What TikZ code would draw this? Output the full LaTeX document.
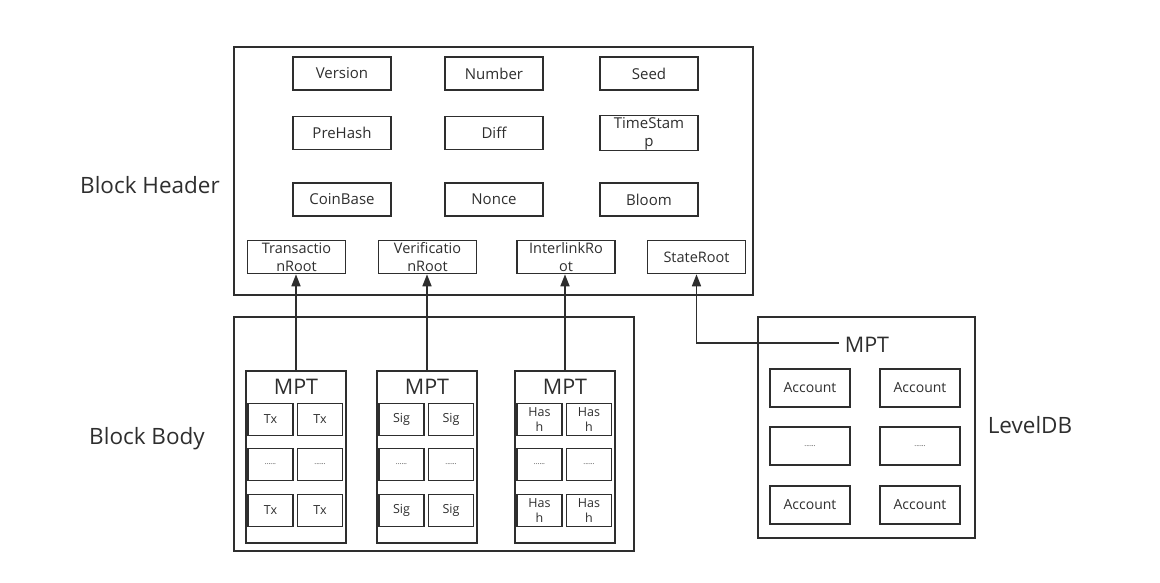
\documentclass[tikz,border=0pt]{standalone}
\usepackage{fontspec}
\setmainfont{Open Sans}
\usetikzlibrary{arrows.meta}
\definecolor{ink}{HTML}{2E2E2E}
\tikzset{
  bx/.style={draw=ink, line width=1.6pt, inner sep=0pt, align=center, text=ink},
  fbox/.style={bx, font=\fontsize{15}{18}\selectfont, minimum width=98pt, minimum height=33pt},
  rbox/.style={bx, font=\fontsize{14.5}{18}\selectfont, minimum width=98pt, minimum height=33pt},
  sbox/.style={bx, font=\fontsize{12.5}{15}\selectfont, minimum width=45pt, minimum height=32pt},
  abox/.style={bx, font=\fontsize{14}{17}\selectfont, minimum width=80pt, minimum height=38pt},
  mptbox/.style={draw=ink, line width=1.6pt, minimum width=100pt, minimum height=172pt, inner sep=0pt},
  mpttxt/.style={text=ink, font=\fontsize{21.5}{24}\selectfont, inner sep=0pt},
  bigl/.style={text=ink, font=\fontsize{22.5}{26}\selectfont, inner sep=0pt},
  conn/.style={draw=ink, line width=1.6pt, -{Triangle[length=12pt,width=9pt]}},
}
\begin{document}
\begin{tikzpicture}[x=1pt,y=-1pt]
\useasboundingbox (0,0) rectangle (1160,583);
% Block header
\draw[ink, line width=1.6pt] (234,47) rectangle (753,295);
\node[bigl] (lhead) at (150,185) {Block Header};
\node[fbox] (version) at (342,73.5) {Version};
\node[fbox] (number) at (494,73.5) {Number};
\node[fbox] (seed) at (649,73.5) {Seed};
\node[fbox] (prehash) at (342,133) {PreHash};
\node[fbox] (diff) at (494,133) {Diff};
\node[fbox] (timestamp) at (649,133) {\rule{0pt}{13pt}TimeStam\\p};
\node[fbox] (coinbase) at (342,199.5) {CoinBase};
\node[fbox] (nonce) at (494,199.5) {Nonce};
\node[fbox] (bloom) at (649,199.5) {Bloom};
\node[rbox] (troot) at (296.5,257) {Transactio\\nRoot};
\node[rbox] (vroot) at (427.5,257) {Verificatio\\nRoot};
\node[rbox] (iroot) at (566,257) {InterlinkRo\\ot};
\node[rbox] (sroot) at (696.5,257) {StateRoot};
% Block body
\draw[ink, line width=1.6pt] (234,317) rectangle (634,551);
\node[bigl] (lbody) at (147,439) {Block Body};
\node[mptbox] (mpt1) at (296,457) {};
\node[mptbox] (mpt2) at (427,457) {};
\node[mptbox] (mpt3) at (565,457) {};
\node[mpttxt] (m1) at (296,387) {MPT};
\node[mpttxt] (m2) at (427,387) {MPT};
\node[mpttxt] (m3) at (565,387) {MPT};
% MPT 1
\node[sbox] (t11) at (270.5,419.5) {Tx};
\node[sbox] (t12) at (320,419.5) {Tx};
\node[sbox] (t21) at (270.5,464.5) {\scriptsize ......};
\node[sbox] (t22) at (320,464.5) {\scriptsize ......};
\node[sbox] (t31) at (270.5,510.5) {Tx};
\node[sbox] (t32) at (320,510.5) {Tx};
% MPT 2
\node[sbox] (s11) at (401.5,419.5) {Sig};
\node[sbox] (s12) at (451,419.5) {Sig};
\node[sbox] (s21) at (401.5,464.5) {\scriptsize ......};
\node[sbox] (s22) at (451,464.5) {\scriptsize ......};
\node[sbox] (s31) at (401.5,510.5) {Sig};
\node[sbox] (s32) at (451,510.5) {Sig};
% MPT 3
\node[sbox] (h11) at (539.5,419.5) {Has\\h};
\node[sbox] (h12) at (589,419.5) {Has\\h};
\node[sbox] (h21) at (539.5,464.5) {\scriptsize ......};
\node[sbox] (h22) at (589,464.5) {\scriptsize ......};
\node[sbox] (h31) at (539.5,510.5) {Has\\h};
\node[sbox] (h32) at (589,510.5) {Has\\h};
% LevelDB
\draw[ink, line width=1.6pt] (758,317) rectangle (975,538);
\node[bigl] (ldb) at (1030,425) {LevelDB};
\node[mpttxt] (mptL) at (867,345) {MPT};
\node[abox] (a11) at (810,388) {Account};
\node[abox] (a12) at (920,388) {Account};
\node[abox] (a21) at (810,446) {\scriptsize ......};
\node[abox] (a22) at (920,446) {\scriptsize ......};
\node[abox] (a31) at (810,505) {Account};
\node[abox] (a32) at (920,505) {Account};
% connectors
\draw[conn] (mpt1.north) -- (mpt1.north |- troot.south);
\draw[conn] (mpt2.north) -- (mpt2.north |- vroot.south);
\draw[conn] (mpt3.north) -- (mpt3.north |- iroot.south);
\coordinate (mptLend) at ([xshift=-6pt,yshift=2pt]mptL.west);
\draw[conn] (mptLend) -| (sroot.south);
\end{tikzpicture}
\end{document}
